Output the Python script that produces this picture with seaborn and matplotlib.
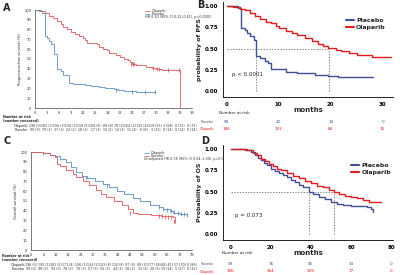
import numpy as np
import pandas as pd
import matplotlib
matplotlib.use("Agg")
import matplotlib.pyplot as plt
import seaborn as sns

# ---------------- data ----------------
# Panel A: PFS (%), months
a_ola_t = [0, 1.5, 2.5, 3.5, 4.5, 5.5, 6.5, 7.0, 8.0, 9.0, 10.0, 11.0, 12.0, 12.5, 13.0, 15.5, 16.0, 17.0, 18.0, 18.5, 20.0, 21.0, 22.0, 23.0, 23.5, 24.0, 25.0, 27.5, 29.0, 30.0, 31.5, 36.1]
a_ola_s = [100, 98.5, 96.5, 94, 91.5, 89, 86, 83, 81, 78, 76, 73, 71, 69, 66, 65.5, 62, 60, 59, 56, 54, 52, 50, 48.5, 47, 45, 43.5, 42, 41, 40, 39, 0]
a_pla_t = [0, 1.0, 1.7, 2.5, 3.0, 3.5, 4.0, 4.6, 5.5, 6.5, 7.0, 8.5, 9.5, 11, 12.5, 14, 16, 17.5, 19.5, 20.5, 22, 25, 29.9]
a_pla_s = [100, 99, 97, 73, 71, 68, 65, 55, 40, 38, 34, 26, 25, 24, 23, 22, 21, 20, 19, 18, 17, 16.5, 16.5]
a_ola_cens_t = [23.8, 24.3, 24.6, 29.3, 30.3, 30.8, 33.0, 35.8]
a_ola_cens_s = [45, 45, 45, 41, 40, 40, 39, 39]
a_pla_cens_t = [20.2, 24.2, 27.3, 29.9]
a_pla_cens_s = [18, 16.5, 16.5, 16.5]
a_xticks = list(range(0, 40, 3))
a_ola_risk = ["196 (0)", "182 (2)", "156 (3)", "134 (3)", "118 (5)", "104 (6)", "89 (8)", "78 (10)", "54 (27)", "32 (43)", "19 (55)", "3 (68)", "0 (71)", "0 (71)"]
a_pla_risk = ["99 (0)", "70 (1)", "37 (2)", "22 (2)", "18 (2)", "17 (2)", "15 (2)", "14 (2)", "11 (4)", "6 (8)", "3 (11)", "0 (14)", "0 (14)", "0 (14)"]

# Panel B: PFS probability
b_pla_t = [0, 2.2, 2.85, 3.5, 4.0, 4.5, 5.2, 5.7, 6.5, 7.3, 8.0, 8.5, 11.4, 13.5, 17, 19.5, 21.5, 28.1]
b_pla_s = [1.0, 0.98, 0.74, 0.72, 0.69, 0.65, 0.60, 0.41, 0.39, 0.36, 0.33, 0.26, 0.22, 0.21, 0.19, 0.18, 0.16, 0.16]
b_ola_t = [0, 1.3, 2.5, 3.5, 4.5, 5.5, 6.5, 7.5, 8.5, 9.5, 10.0, 11.5, 12.5, 13.5, 15.0, 16.5, 17.5, 18.5, 19.5, 21.0, 22.0, 23.5, 25.0, 26.5, 28.0, 31.6]
b_ola_s = [1.0, 0.99, 0.97, 0.95, 0.92, 0.89, 0.85, 0.82, 0.80, 0.77, 0.74, 0.71, 0.69, 0.66, 0.63, 0.59, 0.56, 0.53, 0.51, 0.49, 0.47, 0.45, 0.43, 0.42, 0.40, 0.40]
b_medians = [5.7, 19.6]
b_risk_t = [0, 10, 20, 30]
b_pla_risk = [99, 22, 14, 0]
b_ola_risk = [196, 131, 84, 15]

# Panel C: OS (%)
c_ola_t = [0, 6, 9, 11.5, 14, 17, 19.5, 22, 24.5, 27, 31, 35, 38, 41.5, 45, 49.5, 53, 57.5, 62, 64, 67.5, 69, 72, 75.5]
c_ola_s = [100, 99, 97, 96, 93, 90, 85, 80, 76, 73, 70, 67, 64, 60, 57, 53, 50, 46, 44, 42, 40, 38, 37, 36]
c_pla_t = [0, 6, 9, 11.5, 12.5, 14, 17, 20.5, 22, 25, 28, 31.5, 34, 36.5, 40, 44, 47, 49.5, 52, 58, 63, 69, 70]
c_pla_s = [100, 99, 97, 95, 88, 86, 82, 78, 74, 70, 66, 61, 57, 54, 50, 46, 42, 38, 37, 36, 35, 34, 28]
c_ola_cens_t = [6, 26.5, 37, 62, 64, 66, 68, 69.5, 71, 72.5, 74, 75.5]
c_ola_cens_s = [99, 73, 65, 44, 42, 41, 40, 39, 38, 37, 37, 36]
c_pla_cens_t = [48, 62, 63.5, 65, 66.5, 68, 69.5]
c_pla_cens_s = [38, 35, 35, 34, 34, 34, 30]
c_xticks = list(range(0, 79, 6))
c_ola_risk = ["196 (0)", "192 (1)", "181 (2)", "171 (4)", "156 (5)", "134 (5)", "123 (8)", "110 (8)", "97 (9)", "89 (10)", "77 (18)", "48 (41)", "17 (70)", "0 (86)"]
c_pla_risk = ["99 (0)", "98 (0)", "93 (0)", "78 (2)", "70 (3)", "57 (3)", "50 (3)", "44 (3)", "38 (3)", "33 (4)", "30 (5)", "19 (14)", "5 (27)", "0 (32)"]

# Panel D: OS probability
d_pla_t = [0, 7, 10, 12, 13.5, 15, 16.5, 18, 20, 22, 24, 26, 28, 30, 32, 34, 36, 38.8, 41, 44, 47, 50, 53, 56, 60, 68, 70, 71]
d_pla_s = [1, 0.99, 0.97, 0.93, 0.90, 0.87, 0.84, 0.81, 0.77, 0.74, 0.72, 0.70, 0.67, 0.64, 0.61, 0.58, 0.55, 0.50, 0.47, 0.44, 0.41, 0.38, 0.36, 0.34, 0.33, 0.32, 0.29, 0.26]
d_ola_t = [0, 8, 11, 13, 15, 17, 19, 21, 23, 25, 28, 31, 34, 37, 40, 43, 46, 49, 51.4, 54, 57, 60, 63, 66, 69, 75]
d_ola_s = [1, 0.99, 0.96, 0.93, 0.89, 0.86, 0.83, 0.80, 0.77, 0.75, 0.72, 0.69, 0.66, 0.63, 0.60, 0.57, 0.55, 0.52, 0.50, 0.47, 0.45, 0.44, 0.42, 0.40, 0.38, 0.38]
d_medians = [38.8, 51.4]
d_risk_t = [0, 20, 40, 60, 80]
d_pla_risk = [99, 76, 45, 33, 0]
d_ola_risk = [196, 164, 109, 77, 0]

# ---------------- style ----------------
sns.set_theme(style="white")
plt.rcParams['font.family'] = ['DejaVu Sans']

W, H = 400, 275
fig = plt.figure(figsize=(4, 2.75), dpi=100)

def px_axes(l, t, r, b):
    return fig.add_axes([l / W, 1 - b / H, (r - l) / W, (b - t) / H])

A_RED = "#e0575a"
A_BLUE = "#5b8fbf"
B_RED = "#e31a1c"
B_BLUE = "#3f4f96"

def km(ax, t, s, color, lw, label=None):
    sns.lineplot(x=t, y=s, ax=ax, color=color, lw=lw, drawstyle="steps-post",
                 label=label, legend=False, errorbar=None, sort=False)

def cens(ax, t, s, color):
    sns.scatterplot(x=t, y=s, ax=ax, color=color, marker="|", s=6, linewidth=0.6, legend=False)

# ---------- Panel A ----------
axA = px_axes(35, 10, 192, 108)
km(axA, a_ola_t, a_ola_s, A_RED, 0.6)
km(axA, a_pla_t, a_pla_s, A_BLUE, 0.6)
cens(axA, a_ola_cens_t, a_ola_cens_s, A_RED)
cens(axA, a_pla_cens_t, a_pla_cens_s, A_BLUE)
axA.set_xlim(0, 39)
axA.set_ylim(0, 100)
axA.set_xticks(a_xticks)
axA.set_yticks(range(0, 101, 10))
axA.tick_params(labelsize=2.6, length=1.5, width=0.4, pad=1, colors="#333333")
for sp in ["top", "right"]:
    axA.spines[sp].set_visible(False)
for sp in ["left", "bottom"]:
    axA.spines[sp].set_linewidth(0.5)
    axA.spines[sp].set_color("#444444")
axA.set_xlabel("")
axA.set_ylabel("Progression-free survival (%)", fontsize=2.6, labelpad=2)
axA.plot([0.70, 0.73], [0.985, 0.985], transform=axA.transAxes, color=A_RED, lw=0.5)
axA.plot([0.70, 0.73], [0.955, 0.955], transform=axA.transAxes, color=A_BLUE, lw=0.5)
axA.text(0.745, 0.985, "Olaparib", transform=axA.transAxes, fontsize=2.4, va="center", color="#333333")
axA.text(0.745, 0.955, "Placebo", transform=axA.transAxes, fontsize=2.4, va="center", color="#333333")
axA.text(0.70, 0.925, "HR 0.30 (95% CI 0.22\u20130.41), p<0.0001", transform=axA.transAxes,
         fontsize=2.4, va="center", color="#333333")

tA = px_axes(35, 112, 192, 132)
tA.set_xlim(0, 39); tA.set_ylim(0, 20); tA.axis("off")
for x, o, p in zip(a_xticks, a_ola_risk, a_pla_risk):
    tA.text(x, 6, o, ha="center", va="center", fontsize=2.3, color="#333333")
    tA.text(x, 2, p, ha="center", va="center", fontsize=2.3, color="#333333")
fig.text(3 / W, 1 - 117 / H, "Number at risk", fontsize=2.4, weight="bold", va="center")
fig.text(3 / W, 1 - 121 / H, "(number censored)", fontsize=2.4, weight="bold", va="center")
fig.text(28 / W, 1 - 126 / H, "Olaparib", fontsize=2.4, ha="right", va="center")
fig.text(28 / W, 1 - 130 / H, "Placebo", fontsize=2.4, ha="right", va="center")
fig.text(3 / W, 1 - 8 / H, "A", fontsize=7, weight="bold", va="center")

# ---------- Panel C ----------
axC = px_axes(31, 152, 192, 250)
km(axC, c_ola_t, c_ola_s, A_BLUE, 0.6)
km(axC, c_pla_t, c_pla_s, A_RED, 0.6)
cens(axC, c_ola_cens_t, c_ola_cens_s, A_BLUE)
cens(axC, c_pla_cens_t, c_pla_cens_s, A_RED)
axC.set_xlim(0, 78)
axC.set_ylim(0, 100)
axC.set_xticks(c_xticks)
axC.set_yticks(range(0, 101, 10))
axC.tick_params(labelsize=2.6, length=1.5, width=0.4, pad=1, colors="#333333")
for sp in ["top", "right"]:
    axC.spines[sp].set_visible(False)
for sp in ["left", "bottom"]:
    axC.spines[sp].set_linewidth(0.5)
    axC.spines[sp].set_color("#444444")
axC.set_xlabel("")
axC.set_ylabel("Overall survival (%)", fontsize=2.6, labelpad=2)
axC.plot([0.70, 0.73], [0.985, 0.985], transform=axC.transAxes, color=A_BLUE, lw=0.5)
axC.plot([0.70, 0.73], [0.955, 0.955], transform=axC.transAxes, color=A_RED, lw=0.5)
axC.text(0.745, 0.985, "Olaparib", transform=axC.transAxes, fontsize=2.4, va="center", color="#333333")
axC.text(0.745, 0.955, "Placebo", transform=axC.transAxes, fontsize=2.4, va="center", color="#333333")
axC.text(0.70, 0.925, "Unadjusted HR 0.74 (95% CI 0.54\u20131.00), p=0.054", transform=axC.transAxes,
         fontsize=2.4, va="center", color="#333333")

tC = px_axes(31, 262, 192, 272)
tC.set_xlim(0, 78); tC.set_ylim(0, 10); tC.axis("off")
for x, o, p in zip(c_xticks, c_ola_risk, c_pla_risk):
    tC.text(x, 7, o, ha="center", va="center", fontsize=2.3, color="#333333")
    tC.text(x, 3, p, ha="center", va="center", fontsize=2.3, color="#333333")
fig.text(2 / W, 1 - 256 / H, "Number at risk", fontsize=2.3, weight="bold", va="center")
fig.text(2 / W, 1 - 260 / H, "(number censored)", fontsize=2.3, weight="bold", va="center")
fig.text(25 / W, 1 - 265 / H, "Olaparib", fontsize=2.4, ha="right", va="center")
fig.text(25 / W, 1 - 269 / H, "Placebo", fontsize=2.4, ha="right", va="center")
fig.text(3 / W, 1 - 141 / H, "C", fontsize=7, weight="bold", va="center")

# ---------- Panels B and D ----------
def style_bd(ax, xlim, xticks, ylabel):
    ax.set_xlim(*xlim)
    ax.set_ylim(-0.07, 1.05)
    ax.set_xticks(xticks)
    ax.set_yticks([0, 0.25, 0.5, 0.75, 1.0])
    ax.set_yticklabels(["0.00", "0.25", "0.50", "0.75", "1.00"])
    ax.tick_params(labelsize=4, length=2, width=0.6, pad=1.5, colors="black")
    for lab in ax.get_xticklabels() + ax.get_yticklabels():
        lab.set_fontweight("bold")
    for sp in ["top", "right"]:
        ax.spines[sp].set_visible(False)
    for sp in ["left", "bottom"]:
        ax.spines[sp].set_linewidth(0.6)
        ax.spines[sp].set_color("black")
    ax.set_xlabel("months", fontsize=5, weight="bold", labelpad=0)
    ax.set_ylabel(ylabel, fontsize=4.5, weight="bold", labelpad=2)

def medians(ax, meds):
    ax.plot([0, max(meds)], [0.5, 0.5], ls=(0, (2, 2)), color="#555555", lw=0.5)
    for m in meds:
        ax.plot([m, m], [0, 0.5], ls=(0, (2, 2)), color="#555555", lw=0.5)

def legend_bd(ax, x, y):
    ax.legend(handles=[plt.Line2D([], [], color=B_BLUE, lw=1.5),
                       plt.Line2D([], [], color=B_RED, lw=1.5)],
              labels=["Placebo", "Olaparib"], loc="upper left", bbox_to_anchor=(x, y),
              frameon=False, prop={"size": 4.5, "weight": "bold"}, handlelength=1.2,
              handletextpad=0.4, labelspacing=0.2, borderaxespad=0)

axB = px_axes(223, 2, 393, 97)
medians(axB, b_medians)
km(axB, b_pla_t, b_pla_s, B_BLUE, 1.0)
km(axB, b_ola_t, b_ola_s, B_RED, 1.0)
style_bd(axB, (-0.7, 32), [0, 10, 20, 30], "probability of PFS")
legend_bd(axB, 0.71, 0.86)
axB.text(1.0, 0.2, "p < 0.0001", fontsize=4, color="#222222", va="center")
fig.text(197 / W, 1 - 5 / H, "B", fontsize=7, weight="bold", va="center")

tB = px_axes(223, 118, 393, 132)
tB.set_xlim(-0.7, 32); tB.set_ylim(0, 14); tB.axis("off")
for x, p, o in zip(b_risk_t, b_pla_risk, b_ola_risk):
    tB.text(x, 10, str(p), ha="center", va="center", fontsize=3, color=B_BLUE)
    tB.text(x, 3, str(o), ha="center", va="center", fontsize=3, color=B_RED)
fig.text(219 / W, 1 - 113 / H, "Number at risk", fontsize=3, va="center")
fig.text(214 / W, 1 - 122 / H, "Placebo", fontsize=2.4, ha="right", va="center", color="#555555")
fig.text(214 / W, 1 - 129 / H, "Olaparib", fontsize=2.4, ha="right", va="center", color=B_RED)

axD = px_axes(223, 145, 393, 240)
medians(axD, d_medians)
km(axD, d_pla_t, d_pla_s, B_BLUE, 1.0)
km(axD, d_ola_t, d_ola_s, B_RED, 1.0)
style_bd(axD, (-3.9, 81), [0, 20, 40, 60, 80], "Probability of OS")
legend_bd(axD, 0.74, 0.84)
axD.text(2.0, 0.22, "p = 0.073", fontsize=4, color="#222222", va="center")
fig.text(201 / W, 1 - 141 / H, "D", fontsize=7, weight="bold", va="center")

tD = px_axes(223, 260, 393, 274)
tD.set_xlim(-3.9, 81); tD.set_ylim(0, 14); tD.axis("off")
for x, p, o in zip(d_risk_t, d_pla_risk, d_ola_risk):
    tD.text(x, 10, str(p), ha="center", va="center", fontsize=3, color=B_BLUE)
    tD.text(x, 3, str(o), ha="center", va="center", fontsize=3, color=B_RED)
fig.text(222 / W, 1 - 253 / H, "Number at risk", fontsize=3, va="center")
fig.text(214 / W, 1 - 264 / H, "Placebo", fontsize=2.4, ha="right", va="center", color="#555555")
fig.text(214 / W, 1 - 272 / H, "Olaparib", fontsize=2.4, ha="right", va="center", color=B_RED)

fig.savefig("out.png", dpi=100, facecolor="white")
